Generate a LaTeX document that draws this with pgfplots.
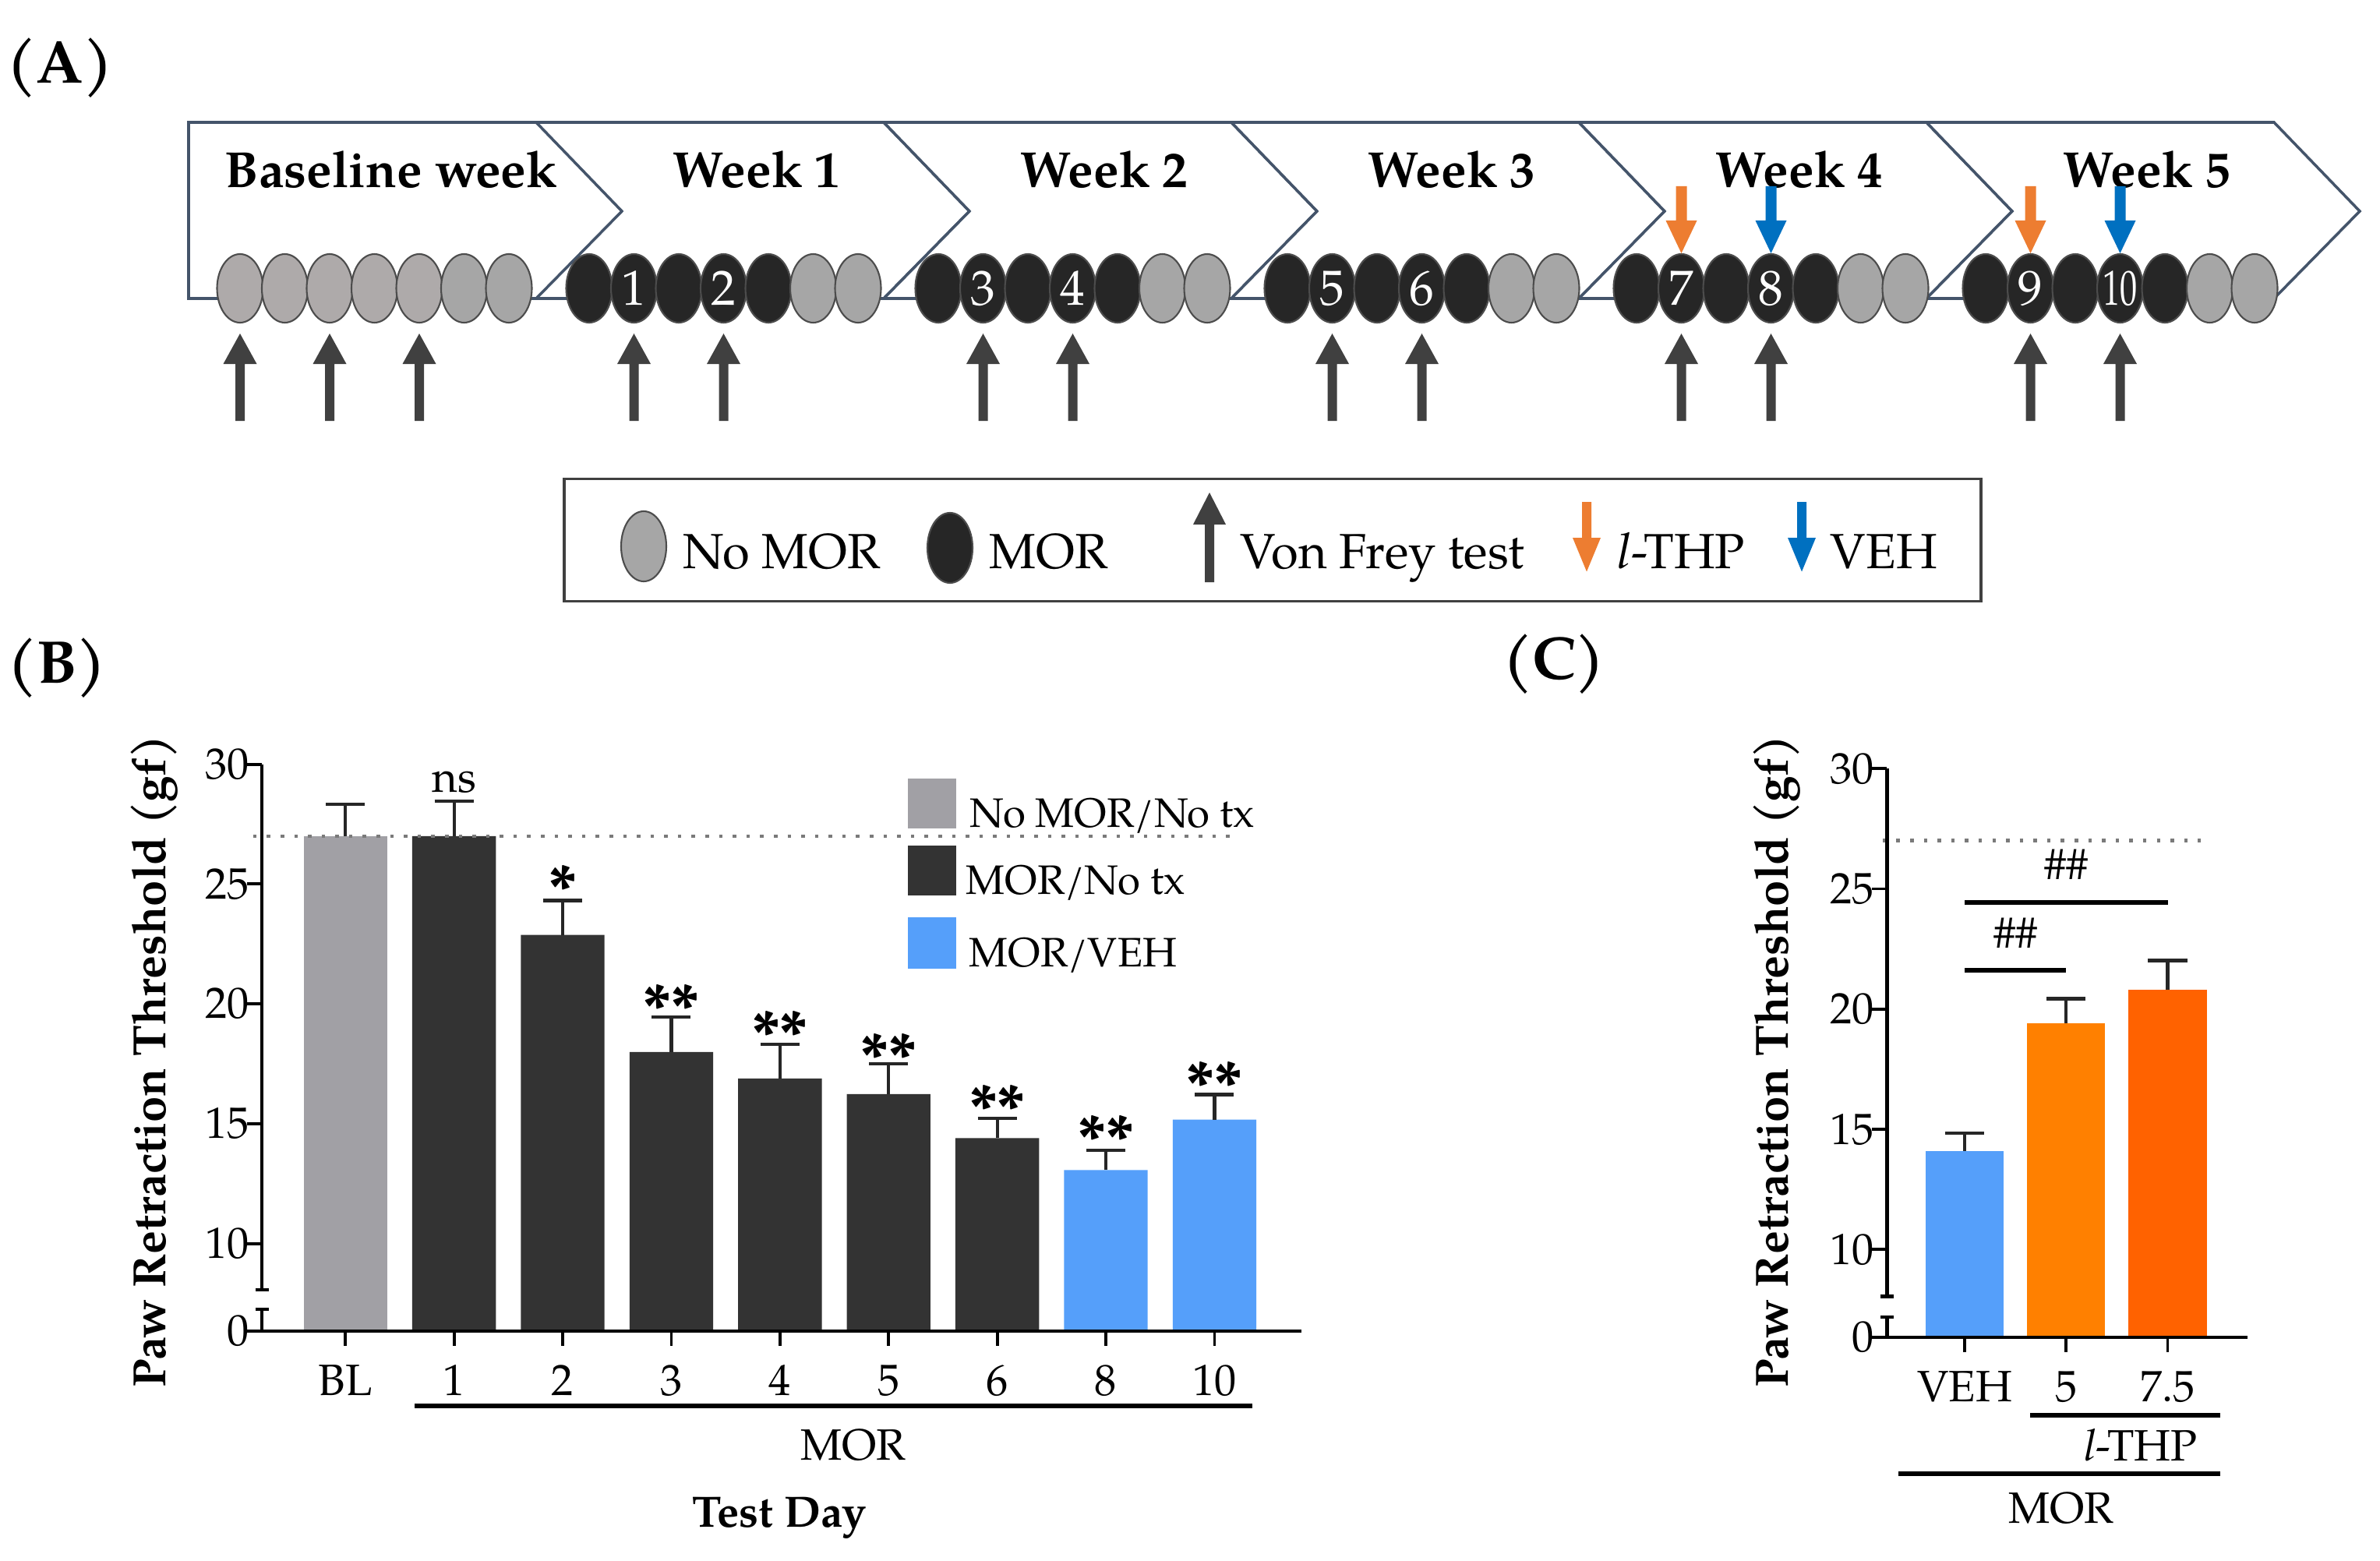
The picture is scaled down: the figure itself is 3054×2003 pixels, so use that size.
\documentclass[border=0pt]{standalone}
\usepackage{fontspec}
\setmainfont{TeX Gyre Pagella}
\usepackage{graphicx}
\usepackage{pgfplots}
\pgfplotsset{compat=1.18}

\definecolor{chev}{HTML}{44546A}
\definecolor{ovA}{HTML}{AEAAAA}
\definecolor{ovB}{HTML}{A6A6A6}
\definecolor{ovD}{HTML}{262626}
\definecolor{arr}{HTML}{404040}
\definecolor{arrO}{HTML}{ED7D31}
\definecolor{arrB}{HTML}{0070C0}
\definecolor{barG}{HTML}{A1A0A5}
\definecolor{barD}{HTML}{333333}
\definecolor{barB}{HTML}{559FFA}
\definecolor{barO}{HTML}{FF8000}
\definecolor{barR}{HTML}{FF6200}
\definecolor{dotc}{HTML}{7A7A7A}

\newcommand{\fs}[1]{\fontsize{#1}{#1}\selectfont}
% arrow: x, tip y, head base y, tail y, half head, half shaft, colour
\newcommand{\arrowshape}[7]{%
  \fill[#7] (#1,#2) -- ({#1+#5},#3) -- ({#1+#6},#3) -- ({#1+#6},#4)
    -- ({#1-#6},#4) -- ({#1-#6},#3) -- ({#1-#5},#3) -- cycle;}

\pgfplotsset{
  panel/.style={scale only axis, anchor=south west, ymin=6.35, ymax=30,
    axis line style={draw=none}, axis x line*=bottom, axis y line*=left,
    tick align=outside, major tick length=0.19cm,
    tick style={black, line width=1.1pt},
    ytick={6.35,10,15,20,25,30}, yticklabels={0,10,15,20,25,30},
    ticklabel style={font=\fs{16}},
    xticklabel style={yshift=-0.12cm}, yticklabel style={xshift=0.15cm},
    clip mode=individual},
  bars/.style={ybar, bar width=0.77, bar shift=0pt, draw=none, fill=#1,
    error bars/.cd, y dir=plus, y explicit, error mark=|,
    error bar style={line width=1.2pt, black!85},
    error mark options={line width=1.2pt, black!85, mark size=0.25cm}},
}
\tikzset{
  px/.style={x=0.01cm, y=-0.01cm},
  stars/.style={font=\fs{24}\bfseries, yshift=-0.17cm},
  dotline/.style={dotc, line width=1.3pt, dash pattern=on 1.3pt off 3.7pt},
}

\begin{document}
\begin{tikzpicture}
\begin{scope}[px]
\useasboundingbox (0,0) rectangle (3054,2003);

% ---------- (A) timeline ----------
\node[font=\fs{22}\bfseries] at (77,87) {(A)};

\draw[chev, line width=1pt, fill=white]
  (242,157) -- (689,157) -- (799,271) -- (689,383) -- (242,383) -- cycle;
\foreach \k in {1,...,5} {
  \pgfmathsetmacro{\xa}{242+446*\k}
  \draw[chev, line width=1pt, fill=white]
    (\xa,157) -- ({\xa+446},157) -- ({\xa+556},271) -- ({\xa+446},383)
    -- (\xa,383) -- ({\xa+110},271) -- cycle;
  \node[font=\fs{18.5}\bfseries] at ({\xa+283},218) {Week \k};
}
\node[font=\fs{18.5}\bfseries] at (502,218) {Baseline week};

\foreach \k in {0,...,5} {
  \foreach \i in {0,...,6} {
    \pgfmathsetmacro{\cx}{308+448*\k+57.5*\i}
    \ifnum\k=0
      \ifnum\i>4 \def\fc{ovB}\else \def\fc{ovA}\fi
    \else
      \ifnum\i>4 \def\fc{ovB}\else \def\fc{ovD}\fi
    \fi
    \filldraw[fill=\fc, draw=black!70, line width=0.6pt]
      (\cx,370) ellipse [x radius=29.5, y radius=44];
  }
}
\foreach \k/\a/\b in {1/1/2,2/3/4,3/5/6,4/7/8,5/9/10} {
  \node[white, font=\fs{18}, inner sep=0] at ({308+448*\k+57.5},370) {\a};
  \node[white, font=\fs{18}, inner sep=0] at ({308+448*\k+172.5},370)
    {\ifnum\b=10 \scalebox{0.7}[1]{10}\else\b\fi};
  \arrowshape{308+448*\k+57.5}{428}{467}{540}{21.5}{6}{arr}
  \arrowshape{308+448*\k+172.5}{428}{467}{540}{21.5}{6}{arr}
}
\foreach \x in {308,423,538} {
  \arrowshape{\x}{428}{467}{540}{21.5}{6}{arr}
}
\arrowshape{2157.5}{325}{283}{239}{20}{7}{arrO}
\arrowshape{2272.5}{325}{283}{239}{20}{7}{arrB}
\arrowshape{2605.5}{325}{283}{239}{20}{7}{arrO}
\arrowshape{2720.5}{325}{283}{239}{20}{7}{arrB}

% legend of (A)
\draw[black!75, line width=1pt] (724,614.5) rectangle (2542,771.5);
\filldraw[fill=ovB, draw=black!70, line width=0.6pt] (826,701) ellipse [x radius=29, y radius=45];
\node[anchor=base west, inner sep=0, font=\fs{18}] at (876,729) {No MOR};
\filldraw[fill=ovD, draw=black!70, line width=0.6pt] (1219,703) ellipse [x radius=29, y radius=45];
\node[anchor=base west, inner sep=0, font=\fs{18}] at (1269,729) {MOR};
\arrowshape{1552}{632}{673}{747}{21}{6}{arr}
\node[anchor=base west, inner sep=0, font=\fs{18}] at (1591,729) {Von Frey test};
\arrowshape{2036}{733.5}{690}{644}{18}{6}{arrO}
\node[anchor=base west, inner sep=0, font=\fs{18}] at (2075,729) {\textit{l}-THP};
\arrowshape{2312}{733.5}{690}{644}{18}{6}{arrB}
\node[anchor=base west, inner sep=0, font=\fs{18}] at (2348,729) {VEH};

\node[font=\fs{22}\bfseries] at (73,857) {(B)};
\node[font=\fs{22}\bfseries] at (1994,852) {(C)};
\end{scope}

% ---------- (B) ----------
\begin{axis}[panel, at={(3.36cm,-17.07cm)}, width=13.33cm, height=7.27cm,
  xmin=-0.768, xmax=8.80,
  xtick={0,...,8}, xticklabels={BL,1,2,3,4,5,6,8,10}]
  \addplot[bars=barG] coordinates {(0,27.0) +- (0,1.33)};
  \addplot[bars=barD] coordinates {
    (1,27.0) +- (0,1.45) (2,22.88) +- (0,1.43) (3,17.99) +- (0,1.47)
    (4,16.89) +- (0,1.42) (5,16.24) +- (0,1.25) (6,14.40) +- (0,0.82)};
  \addplot[bars=barB] coordinates {(7,13.07) +- (0,0.83) (8,15.17) +- (0,1.05)};
  \draw[dotline] (axis cs:-0.85,27) -- (axis cs:8.14,27);
  \draw[line width=1.2pt] (axis cs:-0.89,6.35) -- (axis cs:8.80,6.35);
  \draw[line width=1.2pt] (axis cs:-0.768,30) -- (axis cs:-0.768,8.07);
  \draw[line width=1.2pt] (axis cs:-0.768,7.25) -- (axis cs:-0.768,6.35);
  \draw[line width=1.2pt] (axis cs:-0.83,8.07) -- (axis cs:-0.706,8.07);
  \draw[line width=1.2pt] (axis cs:-0.83,7.25) -- (axis cs:-0.706,7.25);
  \node[font=\fs{16}] at (axis cs:1,29.25) {ns};
  \node[stars] at (axis cs:2,25.38) {*};
  \node[stars] at (axis cs:3,20.43) {**};
  \node[stars] at (axis cs:4,19.31) {**};
  \node[stars] at (axis cs:5,18.38) {**};
  \node[stars] at (axis cs:6,16.22) {**};
  \node[stars] at (axis cs:7,14.94) {**};
  \node[stars] at (axis cs:8,17.19) {**};
\end{axis}

% ---------- (C) ----------
\begin{axis}[panel, at={(24.20cm,-17.15cm)}, width=4.626cm, height=7.294cm,
  xmin=-0.767, xmax=2.79,
  xtick={0,1,2}, xticklabels={VEH,5,7.5}]
  \addplot[bars=barB] coordinates {(0,14.10) +- (0,0.74)};
  \addplot[bars=barO] coordinates {(1,19.41) +- (0,1.02)};
  \addplot[bars=barR] coordinates {(2,20.79) +- (0,1.23)};
  \draw[dotline] (axis cs:-0.81,27) -- (axis cs:2.33,27);
  \draw[line width=1.2pt] (axis cs:-0.917,6.35) -- (axis cs:2.79,6.35);
  \draw[line width=1.2pt] (axis cs:-0.767,30) -- (axis cs:-0.767,8.05);
  \draw[line width=1.2pt] (axis cs:-0.767,7.2) -- (axis cs:-0.767,6.35);
  \draw[line width=1.2pt] (axis cs:-0.83,8.05) -- (axis cs:-0.704,8.05);
  \draw[line width=1.2pt] (axis cs:-0.83,7.2) -- (axis cs:-0.704,7.2);
  \draw[line width=1.7pt] (axis cs:0,24.43) -- (axis cs:2,24.43);
  \node[font=\fs{16}] at (axis cs:1,26.02) {\#\#};
  \draw[line width=1.7pt] (axis cs:0,21.6) -- (axis cs:1,21.6);
  \node[font=\fs{16}] at (axis cs:0.5,23.15) {\#\#};
\end{axis}

\begin{scope}[px]
\node[rotate=90, font=\fs{17}\bfseries] at (198,1362) {Paw Retraction Threshold (gf)};
\fill[barG] (1165,999) rectangle (1227,1063);
\node[anchor=base west, inner sep=0, font=\fs{15}] at (1244,1061) {No MOR/No tx};
\fill[barD] (1165,1085) rectangle (1227,1149);
\node[anchor=base west, inner sep=0, font=\fs{15}] at (1239,1147) {MOR/No tx};
\fill[barB] (1165,1177) rectangle (1227,1243);
\node[anchor=base west, inner sep=0, font=\fs{15}] at (1243,1240) {MOR/VEH};
\draw[line width=1.7pt] (532,1804) -- (1607,1804);
\node[anchor=base, inner sep=0, font=\fs{16}] at (1095,1873) {MOR};
\node[anchor=base, inner sep=0, font=\fs{16}\bfseries] at (1000,1959) {Test Day};

\node[rotate=90, font=\fs{17}\bfseries] at (2280,1362) {Paw Retraction Threshold (gf)};
\draw[line width=1.7pt] (2605,1816) -- (2849,1816);
\node[anchor=base east, inner sep=0, font=\fs{16}] at (2820,1874) {\textit{l}-THP};
\draw[line width=1.7pt] (2436,1891) -- (2849,1891);
\node[anchor=base, inner sep=0, font=\fs{16}] at (2645,1954) {MOR};
\end{scope}
\end{tikzpicture}
\end{document}
